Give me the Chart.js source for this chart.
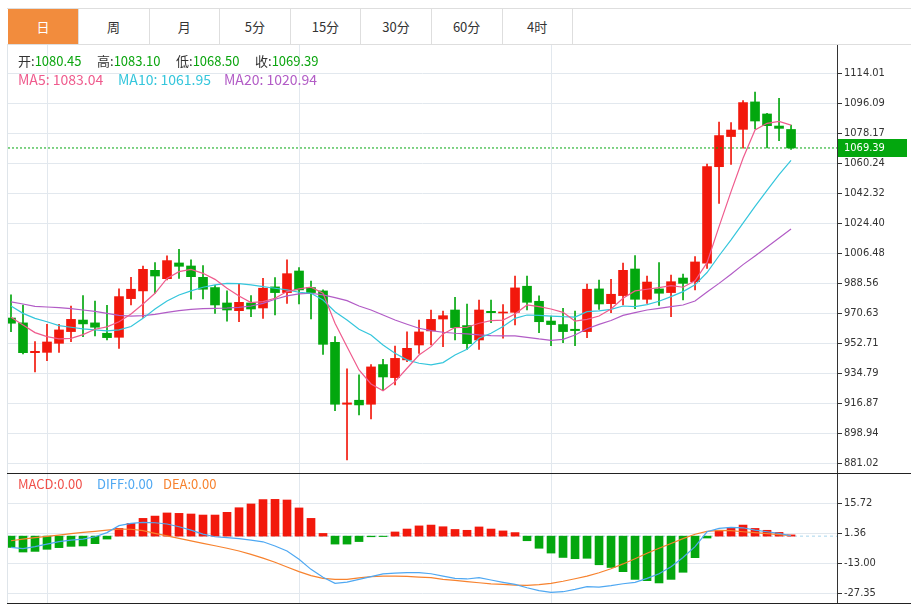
<!DOCTYPE html>
<html>
<head>
<meta charset="utf-8">
<script src="https://cdn.jsdelivr.net/npm/chart.js@4.4.0/dist/chart.umd.min.js"></script>
<style>
  body { margin:0; width:911px; height:605px; position:relative; overflow:hidden; background:#fff;
         font-family:'Noto Sans CJK SC', sans-serif; }
  #tabs { position:absolute; left:7px; top:8px; width:904px; height:35px;
          border-top:1px solid #dedede; border-bottom:1px solid #dedede; }
  .tab { position:absolute; top:0; height:35px; width:70px; border-right:1px solid #dedede;
         text-align:center; line-height:35px; font-size:13px; color:#333; }
  .tab.on { background:#f28c3d; color:#fff; }
  .txt { position:absolute; font-size:13px; line-height:18px; white-space:nowrap; }
  canvas { position:absolute; }
  .hline { position:absolute; left:7px; width:904px; height:1px; background:#222; }
</style>
</head>
<body>
<div id="tabs"></div>
<div style="position:absolute;left:7px;top:44px;width:1px;height:560px;background:#dfe5ea"></div>
<canvas id="main" width="903" height="428" style="left:8px;top:45px"></canvas>
<canvas id="macd" width="903" height="130" style="left:8px;top:473px"></canvas>
<div class="hline" style="top:473px"></div>
<div class="hline" style="top:603px"></div>
<div id="info"></div>

<script>
// 周期标签
const tabNames = ['日', '周', '月', '5分', '15分', '30分', '60分', '4时'];

// K线数据
const opens = [967.8, 964.9, 947.1, 947.3, 952.7, 959.7, 966.6, 964.9, 958.7, 956.3,
  979.4, 984.0, 996.3, 991.3, 1000.7, 998.9, 992.1, 986.0, 976.8, 972.2,
  976.8, 973.8, 986.4, 983.0, 995.9, 986.0, 984.0, 953.3, 916.3, 918.7,
  916.3, 940.0, 932.2, 942.8, 951.7, 960.1, 967.2, 972.6, 963.3, 954.7,
  971.8, 970.8, 971.2, 986.8, 977.8, 966.0, 963.9, 961.1, 959.7, 985.2,
  976.4, 981.2, 997.1, 979.0, 985.2, 983.0, 991.7, 989.5, 1000.5, 1058.2,
  1076.2, 1080.5, 1096.9, 1089.7, 1082.5, 1080.45];
const highs = [981.6, 975.6, 953.7, 964.1, 964.1, 975.0, 981.2, 978.0, 975.4, 985.2,
  992.1, 998.9, 1000.9, 1004.9, 1008.9, 1002.5, 999.1, 987.4, 984.0, 988.1,
  981.2, 991.5, 991.9, 1002.5, 997.9, 989.9, 984.6, 956.7, 937.4, 933.8,
  940.0, 943.1, 951.1, 959.5, 966.6, 972.6, 972.0, 980.2, 976.2, 978.6,
  978.6, 975.8, 992.9, 992.9, 981.0, 969.0, 973.6, 972.0, 988.1, 990.5,
  990.9, 1000.7, 1005.1, 992.9, 1000.9, 993.5, 994.1, 1004.5, 1059.8, 1084.9,
  1084.5, 1097.7, 1102.8, 1090.1, 1099.0, 1083.10];
const lows = [959.7, 946.3, 935.6, 942.3, 947.3, 953.7, 956.7, 957.1, 954.7, 949.7,
  975.6, 968.2, 982.6, 990.5, 991.5, 979.0, 979.2, 970.6, 966.0, 965.6,
  968.6, 967.6, 969.6, 976.6, 976.2, 967.2, 946.1, 912.5, 883.0, 909.9,
  907.5, 924.4, 927.8, 941.8, 946.7, 951.7, 950.7, 954.7, 949.1, 949.1,
  965.0, 955.7, 963.7, 972.6, 959.1, 951.3, 953.1, 951.3, 956.1, 973.0,
  971.0, 975.6, 973.4, 976.6, 975.4, 968.6, 978.6, 984.6, 997.5, 1036.3,
  1059.6, 1069.2, 1080.7, 1069.4, 1073.8, 1068.50];
const closes = [964.7, 947.1, 947.9, 953.5, 960.7, 967.0, 964.3, 962.3, 956.1, 980.6,
  985.0, 996.9, 992.9, 1002.1, 998.7, 992.5, 985.0, 975.6, 972.6, 977.2,
  973.2, 985.6, 983.0, 994.3, 984.6, 983.0, 952.1, 916.3, 917.1, 915.9,
  938.6, 932.6, 943.7, 949.7, 959.5, 967.0, 969.2, 962.1, 952.5, 972.6,
  971.0, 971.4, 985.8, 977.2, 965.6, 963.9, 959.7, 960.3, 985.0, 976.2,
  982.0, 996.3, 979.0, 989.3, 982.6, 989.5, 988.5, 1001.3, 1058.2, 1076.8,
  1080.1, 1096.5, 1085.5, 1082.7, 1081.1, 1069.39];

// 均线
const ma5 = [968.2, 963.7, 959.1, 956.7, 955.3, 955.7, 957.9, 961.1, 962.5, 965.6,
  970.2, 976.2, 982.6, 991.5, 995.5, 996.9, 994.5, 990.9, 985.6, 981.0,
  977.0, 977.6, 979.6, 983.6, 985.2, 986.2, 982.6, 964.7, 950.7, 936.8,
  928.4, 924.4, 929.8, 937.8, 945.7, 950.7, 958.3, 962.1, 962.3, 964.7,
  966.2, 966.6, 970.2, 975.6, 974.6, 973.2, 971.2, 966.0, 967.0, 969.0,
  973.2, 979.6, 984.0, 985.0, 986.0, 987.2, 986.2, 990.0, 1000.9, 1022.4,
  1043.3, 1063.2, 1080.1, 1084.1, 1085.3, 1083.04];
const ma10 = [975.0, 970.6, 967.6, 965.6, 963.3, 962.3, 961.3, 960.7, 960.1, 960.7,
  962.7, 967.6, 973.2, 978.0, 981.6, 984.0, 986.2, 987.6, 988.5, 988.3,
  987.6, 986.6, 985.6, 984.6, 983.2, 982.6, 978.6, 971.6, 966.6, 961.1,
  957.7, 951.7, 946.7, 942.8, 940.8, 939.8, 941.2, 945.7, 949.1, 955.7,
  958.7, 962.7, 967.6, 969.6, 969.4, 969.0, 968.6, 968.4, 971.6, 972.1,
  973.0, 975.0, 974.6, 975.8, 977.8, 980.6, 983.6, 987.6, 995.0, 1005.0,
  1014.5, 1024.5, 1034.5, 1044.0, 1053.5, 1061.95];
const ma20 = [977.4, 976.2, 974.8, 974.4, 974.0, 973.4, 972.6, 971.8, 970.6, 969.4,
  969.0, 969.2, 970.0, 971.2, 972.2, 973.0, 973.4, 973.6, 973.8, 974.2,
  975.0, 976.6, 979.0, 981.0, 982.2, 982.6, 981.6, 980.0, 978.2, 975.0,
  972.6, 969.6, 966.6, 964.1, 961.7, 960.3, 959.3, 958.7, 958.3, 957.7,
  957.3, 957.1, 957.1, 956.3, 955.3, 954.5, 955.1, 957.7, 961.4, 964.0,
  966.3, 969.4, 971.0, 972.6, 973.6, 974.6, 975.6, 978.0, 983.3, 988.5,
  994.0, 999.7, 1004.9, 1010.2, 1015.6, 1020.94];

// MACD
const macdHist = [-5.4, -7.6, -7.3, -6.3, -5.5, -4.9, -4.7, -3.6, -1.4, 3.7,
  6.1, 8.5, 9.6, 11.1, 10.9, 10.6, 10.1, 10.1, 11.4, 13.6,
  15.4, 17.5, 17.6, 17.3, 13.5, 8.5, 1.3, -3.8, -3.8, -2.6,
  -0.3, -0.2, 2.0, 3.4, 4.9, 5.3, 4.5, 3.2, 2.8, 4.4,
  3.4, 2.5, 1.7, -2.2, -5.8, -8.1, -10.2, -10.8, -10.6, -13.7,
  -15.0, -17.0, -20.7, -21.3, -22.4, -20.7, -17.3, -10.3, -0.9, 2.5,
  4.0, 5.3, 3.7, 2.8, 1.8, 0.6];
const diff = [-5.4, -6.0, -5.0, -3.8, -2.6, -1.9, -1.4, -0.3, 1.7, 5.0,
  6.1, 6.6, 6.4, 5.8, 4.5, 2.9, 1.0, -0.3, -0.7, -1.2,
  -1.9, -2.7, -4.7, -7.1, -11.1, -15.9, -19.7, -22.6, -22.0, -20.7,
  -19.4, -18.1, -17.7, -17.5, -17.5, -18.0, -19.1, -20.2, -20.5, -19.9,
  -21.0, -22.1, -23.1, -24.7, -26.1, -26.9, -26.6, -25.5, -24.2, -24.4,
  -23.7, -22.8, -22.1, -20.2, -18.0, -14.6, -10.2, -5.0, 2.1, 3.7,
  4.2, 4.0, 2.9, 2.1, 1.3, 0.2];
const dea = [-2.2, -1.4, -0.7, -0.1, 0.5, 1.2, 1.8, 2.3, 2.9, 3.4,
  3.3, 2.6, 1.3, 0.1, -1.1, -2.3, -3.5, -4.6, -5.8, -7.1,
  -8.7, -10.5, -12.5, -14.8, -17.0, -18.9, -20.2, -20.7, -20.7, -20.0,
  -19.4, -19.1, -19.1, -19.3, -19.6, -19.9, -20.7, -21.2, -21.8, -22.3,
  -22.8, -23.1, -23.4, -23.6, -23.2, -22.6, -21.6, -20.4, -19.1, -17.5,
  -15.6, -13.3, -10.8, -8.2, -5.8, -3.5, -1.2, 0.9, 2.3, 2.8,
  2.6, 2.1, 1.7, 1.2, 0.7, 0.2];

// 坐标刻度
const priceTicks = [881.02, 898.94, 916.87, 934.79, 952.71, 970.63, 988.56,
  1006.48, 1024.40, 1042.32, 1060.24, 1078.17, 1096.09, 1114.01];
const macdTicks = [-27.35, -13.00, 1.36, 15.72];
const xGridIdx = [3, 24, 45];

const RED = '#f2180c';
const GREEN = '#03a70e';
const GRID = '#e2e8ee';
const last = closes.length - 1;
const idx = closes.map((_, i) => i);
const xMin = -0.25, xMax = 68.83;

// 周期按钮
const tabs = document.getElementById('tabs');
tabNames.forEach((n, i) => {
  const d = document.createElement('div');
  d.className = 'tab' + (i === 0 ? ' on' : '');
  d.style.left = (1 + i * 70.6) + 'px';
  d.textContent = n;
  tabs.appendChild(d);
});

// 顶部信息
const info = document.getElementById('info');
function addText(x, y, parts, size) {
  const d = document.createElement('div');
  d.className = 'txt';
  d.style.left = x + 'px';
  d.style.top = y + 'px';
  if (size) d.style.fontSize = size + 'px';
  parts.forEach(([t, c]) => {
    const s = document.createElement('span');
    s.textContent = t;
    s.style.color = c;
    d.appendChild(s);
  });
  info.appendChild(d);
}
const VAL = '#0ba50f';
addText(18, 52, [['开:', '#333'], [opens[last].toFixed(2), VAL]]);
addText(97, 52, [['高:', '#333'], [highs[last].toFixed(2), VAL]]);
addText(176, 52, [['低:', '#333'], [lows[last].toFixed(2), VAL]]);
addText(255, 52, [['收:', '#333'], [closes[last].toFixed(2), VAL]]);
addText(18, 70, [['MA5: ' + ma5[last].toFixed(2), '#ef5b8d']], 14);
addText(118, 70, [['MA10: ' + ma10[last].toFixed(2), '#35c6dc']], 14);
addText(224, 70, [['MA20: ' + ma20[last].toFixed(2), '#b25cc6']], 14);
addText(18, 475, [['MACD:0.00', '#f0504a']]);
addText(97, 475, [['DIFF:0.00', '#4fa8f2']]);
addText(163, 475, [['DEA:0.00', '#f7822e']]);

const candleColors = idx.map(i => closes[i] >= opens[i] ? RED : GREEN);

function xScale() {
  return {
    type: 'linear', min: xMin, max: xMax, offset: false,
    afterBuildTicks: s => { s.ticks = xGridIdx.map(v => ({ value: v })); },
    afterFit: s => { s.height = 0; s.paddingLeft = 0; s.paddingRight = 0; },
    ticks: { display: false },
    grid: { color: GRID, drawTicks: false, offset: false },
    border: { display: false }
  };
}
function yScale(min, max, tickVals) {
  return {
    position: 'right', min: min, max: max,
    afterBuildTicks: s => { s.ticks = tickVals.map(v => ({ value: v })); },
    afterFit: s => { s.width = 74; s.paddingTop = 0; s.paddingBottom = 0; },
    ticks: { color: '#333', padding: 2, font: { family: "'DejaVu Sans Condensed', 'Liberation Sans', sans-serif", size: 11 },
             callback: v => v.toFixed(2) },
    grid: { color: GRID, tickColor: '#333', tickLength: 5 },
    border: { display: true, color: '#333', width: 1 }
  };
}
function flatLine(v, color, dash, order) {
  return { type: 'line', data: [{ x: xMin, y: v }, { x: xMax, y: v }], borderColor: color,
           borderWidth: 1, borderDash: dash, pointRadius: 0, order: order };
}
function lineDs(arr, color) {
  return { type: 'line', data: idx.map(i => ({ x: i, y: arr[i] })), borderColor: color,
           borderWidth: 1.2, pointRadius: 0, tension: 0, order: 0 };
}

// 最新价标签
const priceTag = {
  id: 'priceTag',
  afterDraw(chart) {
    const ctx = chart.ctx;
    const y = chart.scales.y.getPixelForValue(closes[last]);
    const x = chart.chartArea.right + 1;
    ctx.save();
    ctx.fillStyle = GREEN;
    ctx.fillRect(x, Math.round(y) - 9, 69, 18);
    ctx.fillStyle = '#fff';
    ctx.font = "11px 'DejaVu Sans Condensed', 'Liberation Sans', sans-serif";
    ctx.textBaseline = 'middle';
    ctx.fillText(closes[last].toFixed(2), x + 6, Math.round(y));
    ctx.restore();
  }
};

const common = {
  responsive: false, animation: false, events: [],
  layout: { padding: 0 },
  plugins: { legend: { display: false }, tooltip: { enabled: false } }
};

// 主图
new Chart(document.getElementById('main'), {
  type: 'bar',
  data: {
    datasets: [
      { data: idx.map(i => ({ x: i, y: [lows[i], highs[i]] })), backgroundColor: candleColors,
        barThickness: 1, grouped: false, order: 3 },
      { data: idx.map(i => ({ x: i, y: [opens[i], closes[i]] })), backgroundColor: candleColors,
        barThickness: 9, minBarLength: 1, grouped: false, order: 2 },
      lineDs(ma5, '#ef5b8d'),
      lineDs(ma10, '#35c6dc'),
      lineDs(ma20, '#b25cc6'),
      flatLine(closes[last], GREEN, [2, 2], 1)
    ]
  },
  options: Object.assign({}, common, {
    scales: { x: xScale(), y: yScale(875.23, 1130.9, priceTicks) }
  }),
  plugins: [priceTag]
});

// MACD副图
new Chart(document.getElementById('macd'), {
  type: 'bar',
  data: {
    datasets: [
      flatLine(0, '#a9d6ec', [3, 3], 4),
      { data: idx.map(i => ({ x: i, y: macdHist[i] })), backgroundColor: idx.map(i => macdHist[i] >= 0 ? RED : GREEN),
        barThickness: 8, grouped: false, order: 2 },
      lineDs(diff, '#4fa8f2'),
      lineDs(dea, '#f7822e')
    ]
  },
  options: Object.assign({}, common, {
    scales: { x: xScale(), y: yScale(-32.0, 30.22, macdTicks) }
  })
});
</script>
</body>
</html>
